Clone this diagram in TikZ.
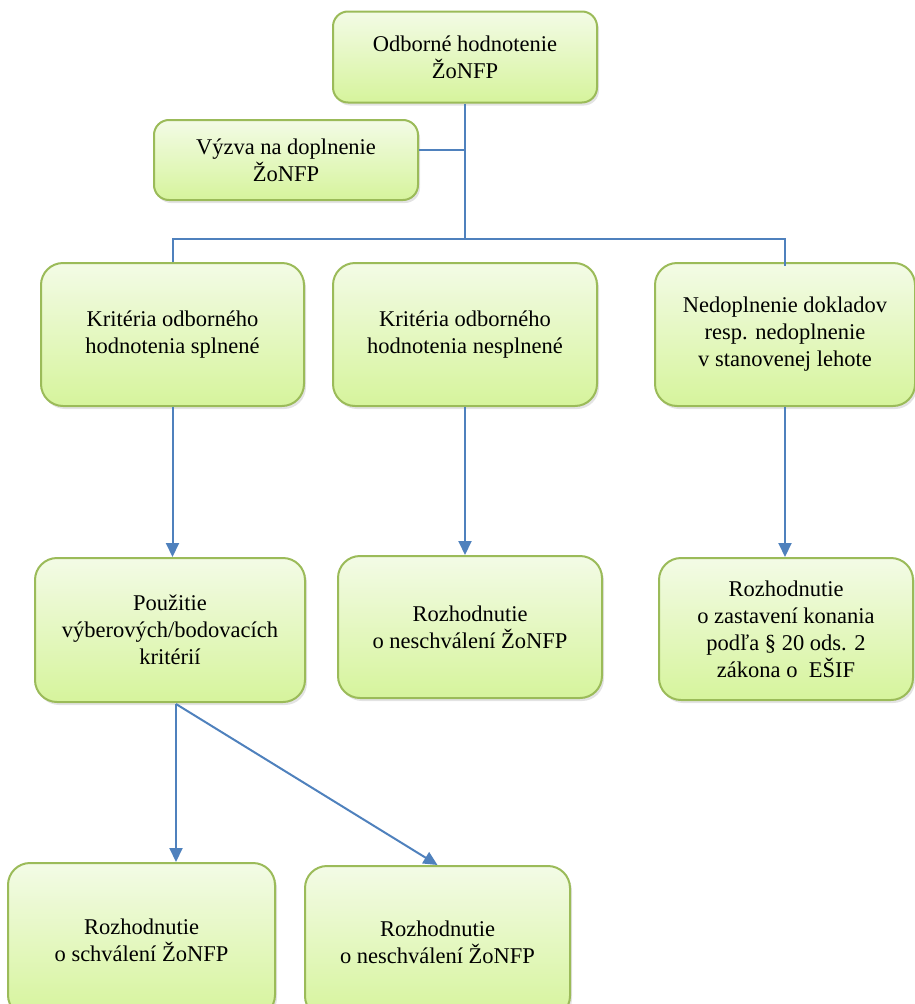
\documentclass[tikz,border=0pt]{standalone}
\usepackage{fontspec}
\setmainfont{Liberation Serif}
\usetikzlibrary{arrows.meta,shadows}
\definecolor{boxline}{HTML}{9BBB59}
\definecolor{boxtop}{HTML}{F3FBE6}
\definecolor{boxbot}{HTML}{D6F49C}
\definecolor{conn}{HTML}{4F81BD}
\tikzset{
  box/.style={draw=boxline, line width=2pt, rounded corners=#1,
    top color=boxtop, bottom color=boxbot, align=center,
    font=\fontsize{22.5}{27}\selectfont, inner sep=0pt,
    drop shadow={opacity=0.22, shadow xshift=2pt, shadow yshift=-3pt}},
  box/.default=22pt,
  conline/.style={draw=conn, line width=2pt},
  conarrow/.style={conline, -{Triangle[length=14pt,width=13pt]}},
}
\begin{document}
\begin{tikzpicture}[x=1pt,y=-1pt]
\useasboundingbox (0,0) rectangle (915,1004);
\node[box=15pt, minimum width=264pt, minimum height=91pt] (top) at (465,57) {Odborné hodnotenie\\ŽoNFP};
\node[box=15pt, minimum width=264pt, minimum height=80pt] (vyzva) at (286,160) {Výzva na doplnenie\\ŽoNFP};
\node[box, minimum width=263pt, minimum height=143pt] (k1) at (172.5,334.5) {Kritéria odborného\\hodnotenia splnené};
\node[box, minimum width=264pt, minimum height=143pt] (k2) at (465,334.5) {Kritéria odborného\\hodnotenia nesplnené};
\node[box, minimum width=260pt, minimum height=143pt] (k3) at (785,334.5) {Nedoplnenie dokladov\\resp. nedoplnenie\\v stanovenej lehote};
\node[box, minimum width=270pt, minimum height=144pt] (p) at (170,630) {Použitie\\výberových/bodovacích\\kritérií};
\node[box, minimum width=264pt, minimum height=142pt] (r2) at (470,627) {Rozhodnutie\\o neschválení ŽoNFP};
\node[box, minimum width=254pt, minimum height=142pt] (r3) at (786,629) {Rozhodnutie\\o zastavení konania\\podľa § 20 ods. 2\\zákona o\ \ EŠIF};
\node[box, minimum width=267pt, minimum height=154pt] (s) at (141.5,940) {Rozhodnutie\\o schválení ŽoNFP};
\node[box, minimum width=265pt, minimum height=152pt] (n) at (437.5,942) {Rozhodnutie\\o neschválení ŽoNFP};
% connectors
\coordinate (bar) at (465,239);
\coordinate (j1) at (465,150);
\draw[conline] (top.south) -- (bar);
\draw[conline] (vyzva.east |- j1) -- (j1);
\draw[conline] ([xshift=0.5pt]k1.north) |- (bar) -| ([yshift=-4pt]k3.north);
\draw[conarrow] (k1.south) -- (k1.south |- p.north);
\draw[conarrow] (k2.south) -- (k2.south |- r2.north);
\draw[conarrow] (k3.south) -- (k3.south |- r3.north);
\coordinate (pout) at (176,704);
\draw[conarrow] (pout) -- (pout |- s.north);
\draw[conarrow] (pout) -- (n.north);
\end{tikzpicture}
\end{document}
